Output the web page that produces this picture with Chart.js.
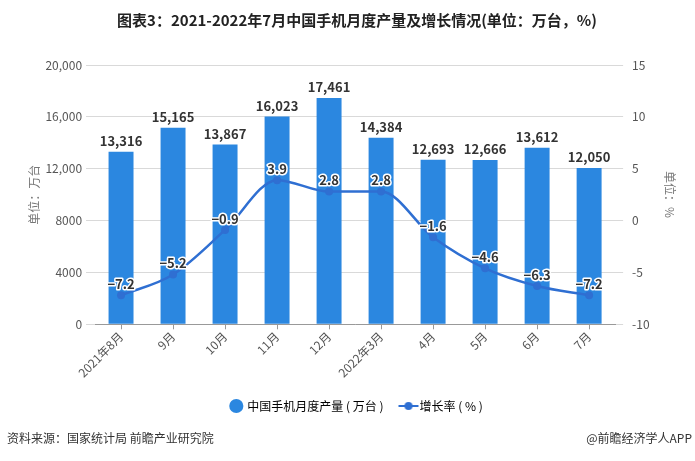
<!DOCTYPE html>
<html>
<head>
<meta charset="utf-8">
<script src="https://cdn.jsdelivr.net/npm/chart.js@4"></script>
<style>
html,body{margin:0;padding:0;background:#fff;}
#wrap{position:relative;width:695px;height:461px;}
canvas{display:block;}
</style>
</head>
<body>
<div id="wrap"><canvas id="c" width="695" height="461"></canvas></div>
<script>
const categories = ["2021年8月","9月","10月","11月","12月","2022年3月","4月","5月","6月","7月"];
const outputValues = [13316,15165,13867,16023,17461,14384,12693,12666,13612,12050];
const growthValues = [-7.2,-5.2,-0.9,3.9,2.8,2.8,-1.6,-4.6,-6.3,-7.2];
const leftTicks = [0,4000,8000,12000,16000,20000];
const rightTicks = [-10,-5,0,5,10,15];
const titleText = "图表3：2021-2022年7月中国手机月度产量及增长情况(单位：万台，%)";
const sourceText = "资料来源：国家统计局 前瞻产业研究院";
const brandText = "@前瞻经济学人APP";

const FONT = "'Noto Sans CJK SC','Noto Sans',sans-serif";
const barColor = "#2b87e0";
const lineColor = "#2f6fd2";

function fmt(v){ return Math.abs(v) >= 10000 ? v.toLocaleString('en-US') : String(v); }

const lineSym = document.createElement('canvas');
lineSym.width = 22; lineSym.height = 10;
(function(){
  const g = lineSym.getContext('2d');
  g.strokeStyle = lineColor; g.lineWidth = 2;
  g.beginPath(); g.moveTo(1,5); g.lineTo(21,5); g.stroke();
  g.fillStyle = lineColor; g.beginPath(); g.arc(11,5,4,0,Math.PI*2); g.fill();
})();

const labelPlugin = {
  id: 'valueLabels',
  afterDatasetsDraw(chart){
    const ctx = chart.ctx;
    ctx.save();
    ctx.textAlign = 'center';
    ctx.textBaseline = 'alphabetic';
    ctx.font = "bold 13px " + FONT;
    const m0 = chart.getDatasetMeta(0);
    m0.data.forEach((el,i)=>{
      ctx.fillStyle = '#333';
      ctx.fillText(fmt(outputValues[i]), el.x, el.y - 6);
    });
    const m1 = chart.getDatasetMeta(1);
    ctx.textBaseline = 'middle';
    m1.data.forEach((el,i)=>{
      const t = growthValues[i].toFixed(1).replace('-', '\u2212');
      ctx.lineWidth = 3; ctx.strokeStyle = '#fff'; ctx.lineJoin = 'round';
      ctx.strokeText(t, el.x, el.y - 11);
      ctx.fillStyle = '#333';
      ctx.fillText(t, el.x, el.y - 11);
    });
    ctx.restore();
  },
  afterDraw(chart){
    const ctx = chart.ctx;
    ctx.save();
    ctx.fillStyle = '#333';
    ctx.font = "12px " + FONT;
    ctx.textBaseline = 'middle';
    ctx.textAlign = 'left';
    ctx.fillText(sourceText, 7, 438);
    ctx.textAlign = 'right';
    ctx.fillText(brandText, 692, 438);
    ctx.restore();
  }
};

new Chart(document.getElementById('c'), {
  data: {
    labels: categories,
    datasets: [
      {
        type: 'bar',
        label: '中国手机月度产量 ( 万台 )',
        data: outputValues,
        backgroundColor: barColor,
        yAxisID: 'y',
        barPercentage: 0.48,
        categoryPercentage: 1.0,
        order: 2
      },
      {
        type: 'line',
        label: '增长率 ( % )',
        data: growthValues,
        borderColor: lineColor,
        backgroundColor: lineColor,
        borderWidth: 2.5,
        pointRadius: 4,
        pointBackgroundColor: lineColor,
        pointBorderWidth: 0,
        tension: 0.4,
        cubicInterpolationMode: 'monotone',
        yAxisID: 'y1',
        order: 1
      }
    ]
  },
  options: {
    responsive: false,
    animation: false,
    devicePixelRatio: 1,
    layout: { padding: { left: 25, right: 6, top: 0, bottom: 39 } },
    plugins: {
      title: {
        display: true,
        text: titleText,
        color: '#222',
        font: { family: FONT, size: 15, weight: 'bold' },
        padding: { top: 11, bottom: 36 }
      },
      legend: {
        position: 'bottom',
        labels: {
          usePointStyle: true,
          color: '#333',
          font: { family: FONT, size: 12 },
          padding: 20,
          boxWidth: 10,
          boxHeight: 10,
          generateLabels(chart){
            return [
              { text: '中国手机月度产量 ( 万台 )', pointStyle: 'circle', fillStyle: barColor, strokeStyle: barColor, lineWidth: 0, datasetIndex: 0 },
              { text: '增长率 ( % )', pointStyle: lineSym, fillStyle: lineColor, strokeStyle: lineColor, lineWidth: 0, datasetIndex: 1 }
            ];
          }
        }
      },
      tooltip: { enabled: false }
    },
    scales: {
      x: {
        offset: true,
        grid: { display: true, drawOnChartArea: false, offset: false, tickLength: 5, color: '#999' },
        border: { display: true, color: '#999' },
        ticks: { color: '#555', font: { family: FONT, size: 12 }, maxRotation: 45, minRotation: 45, autoSkip: false, padding: 0 }
      },
      y: {
        position: 'left',
        min: 0, max: 20000,
        afterBuildTicks(axis){ axis.ticks = leftTicks.map(v=>({value:v})); },
        grid: { color: '#d9d9d9', tickLength: 9, drawTicks: true },
        border: { display: false },
        ticks: { color: '#555', font: { family: FONT, size: 12 }, padding: 4, callback: v => fmt(v) },
        title: { display: true, text: '单位：万台', color: '#777', font: { family: FONT, size: 12 }, padding: { top: 2, bottom: 0 } }
      },
      y1: {
        position: 'right',
        min: -10, max: 15,
        afterBuildTicks(axis){ axis.ticks = rightTicks.map(v=>({value:v})); },
        grid: { drawOnChartArea: false, color: '#d9d9d9', tickLength: 8 },
        border: { display: false },
        ticks: { color: '#555', font: { family: FONT, size: 12 }, padding: 9 },
        title: { display: true, text: '单位：%', color: '#777', font: { family: FONT, size: 12 }, padding: { top: 12 } }
      }
    }
  },
  plugins: [labelPlugin]
});
</script>
</body>
</html>
